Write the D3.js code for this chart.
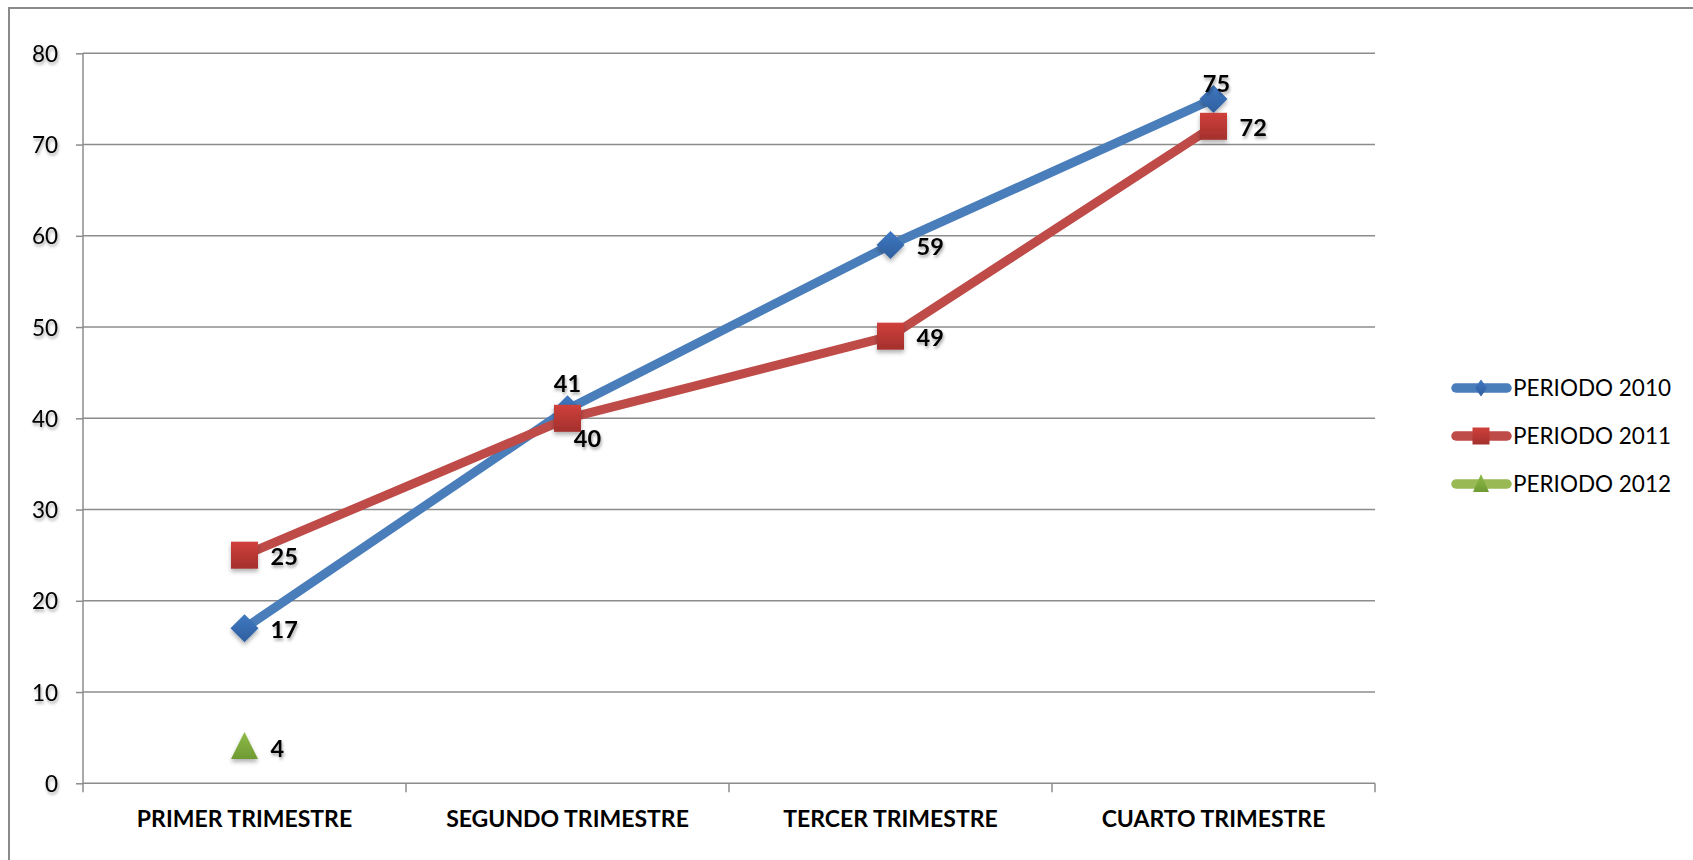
<!DOCTYPE html>
<html><head><meta charset="utf-8">
<script src="https://cdn.jsdelivr.net/npm/d3@7"></script>
<style>
body{margin:0;background:#fff;}
svg{display:block;font-family:Lato,"Open Sans",sans-serif;}
</style></head>
<body><svg id="c" width="1693" height="860"></svg>
<script>
const categories = ["PRIMER TRIMESTRE","SEGUNDO TRIMESTRE","TERCER TRIMESTRE","CUARTO TRIMESTRE"];
const seriesNames = ["PERIODO 2010","PERIODO 2011","PERIODO 2012"];
const values2010 = [17, 41, 59, 75];
const values2011 = [25, 40, 49, 72];
const values2012 = [4, null, null, null];
const yTicks = [0,10,20,30,40,50,60,70,80];
const labelPos2010 = ["right","above","right","aboveNear"];
const labelPos2011 = ["right","below","right","right"];
const labelPos2012 = ["right",null,null,null];

const series = [
  {name: seriesNames[0], values: values2010, pos: labelPos2010, line:"#4a7ebb", fill:"#3f78c2", dark:"#2f5f9e", shape:"diamond"},
  {name: seriesNames[1], values: values2011, pos: labelPos2011, line:"#be4b48", fill:"#d0403b", dark:"#a3302d", shape:"square"},
  {name: seriesNames[2], values: values2012, pos: labelPos2012, line:"#98b954", fill:"#8fbb48", dark:"#6f9a34", shape:"triangle"}
];

const svg = d3.select("#c");
const defs = svg.append("defs");
const f = defs.append("filter").attr("id","sh").attr("x","-50%").attr("y","-50%").attr("width","200%").attr("height","200%");
f.append("feDropShadow").attr("dx",1).attr("dy",2.5).attr("stdDeviation",1.6).attr("flood-color","#000").attr("flood-opacity",0.35);
const fm = defs.append("filter").attr("id","msh").attr("x","-50%").attr("y","-50%").attr("width","200%").attr("height","200%");
fm.append("feDropShadow").attr("dx",0).attr("dy",3).attr("stdDeviation",2).attr("flood-color","#000").attr("flood-opacity",0.3);
series.forEach((s,i)=>{
  const g = defs.append("linearGradient").attr("id","g"+i).attr("x1",0).attr("y1",0).attr("x2",0).attr("y2",1);
  g.append("stop").attr("offset","0%").attr("stop-color",s.fill);
  g.append("stop").attr("offset","100%").attr("stop-color",s.dark);
});

// outer border
svg.append("path").attr("d","M9,860 L9,8 L1693,8").attr("fill","none").attr("stroke","#8a8a8a").attr("stroke-width",2);

const pLeft = 83, pRight = 1375, pTop = 53.3, pBottom = 783.3;
const x = d3.scaleBand().domain(categories).range([pLeft,pRight]);
const y = d3.scaleLinear().domain([0,80]).range([pBottom,pTop]);
const cx = c => x(c) + x.bandwidth()/2;

// gridlines
svg.append("g").selectAll("line").data(yTicks.filter(t=>t>0)).join("line")
  .attr("x1",pLeft).attr("x2",pRight).attr("y1",d=>y(d)).attr("y2",d=>y(d))
  .attr("stroke","#8c8c8c").attr("stroke-width",1.5);

// y axis
const ya = svg.append("g").attr("transform",`translate(${pLeft},0)`)
  .call(d3.axisLeft(y).tickValues(yTicks).tickSize(7).tickPadding(18));
ya.select(".domain").attr("stroke","#8c8c8c").attr("stroke-width",1.5).attr("d",`M0,${pTop}V${pBottom}`);
ya.selectAll(".tick line").attr("stroke","#8c8c8c").attr("stroke-width",1.5);
ya.selectAll(".tick text").attr("font-size",22.5).attr("fill","#000").attr("filter","url(#sh)").attr("font-family","Lato,sans-serif").attr("dy","0.36em");

// x axis
const xa = svg.append("g").attr("transform",`translate(0,${pBottom})`)
  .call(d3.axisBottom(x).tickSize(0).tickPadding(27));
xa.select(".domain").attr("stroke","#8c8c8c").attr("stroke-width",1.5).attr("d",`M${pLeft},0H${pRight}`);
xa.selectAll(".tick text").attr("font-size",23).attr("font-weight","bold").attr("fill","#000").attr("font-family","Lato,sans-serif");
svg.append("g").selectAll("line").data(categories.map(c=>x(c)).concat([pRight])).join("line")
  .attr("x1",d=>d).attr("x2",d=>d).attr("y1",pBottom).attr("y2",pBottom+9)
  .attr("stroke","#8c8c8c").attr("stroke-width",1.5);

function marker(sel, shape, i, w, h){
  if(shape==="diamond"){
    sel.append("path").attr("d",`M0,${-h/2}L${w/2},0L0,${h/2}L${-w/2},0Z`);
  } else if(shape==="square"){
    sel.append("rect").attr("x",-w/2).attr("y",-h/2).attr("width",w).attr("height",h);
  } else {
    sel.append("path").attr("d",`M0,${-h*0.55}L${w/2},${h*0.45}L${-w/2},${h*0.45}Z`);
  }
  sel.selectAll("path,rect").attr("fill",`url(#g${i})`);
}

const line = d3.line().defined(d=>d.v!=null).x(d=>cx(d.c)).y(d=>y(d.v));
series.forEach((s,i)=>{
  const pts = categories.map((c,j)=>({c, v:s.values[j], p:s.pos[j]}));
  const g = svg.append("g");
  g.append("path").datum(pts).attr("d",line).attr("fill","none")
    .attr("stroke",s.line).attr("stroke-width",9).attr("stroke-linejoin","round").attr("stroke-linecap","round");
  pts.filter(d=>d.v!=null).forEach(d=>{
    const m = g.append("g").attr("transform",`translate(${cx(d.c)},${y(d.v)})`).attr("filter","url(#msh)");
    const sz = s.shape==="diamond" ? 28 : 27;
    marker(m, s.shape, i, sz, sz);
  });
});
// labels
series.forEach((s,i)=>{
  categories.forEach((c,j)=>{
    const v = s.values[j]; if(v==null) return;
    const p = s.pos[j];
    let tx = cx(c), ty = y(v) + 1.5, anchor="middle";
    if(p==="right"){ tx += 26; anchor="start"; }
    else if(p==="above"){ ty -= 27; }
    else if(p==="aboveNear"){ tx += 3; ty -= 17; }
    else if(p==="below"){ tx += 20; ty += 19; }
    svg.append("text").attr("x",tx).attr("y",ty).attr("text-anchor",anchor)
      .attr("dy","0.36em").attr("font-size",23.5).attr("font-weight","bold")
      .attr("filter","url(#sh)").text(v);
  });
});

// legend
const lg = svg.append("g");
series.forEach((s,i)=>{
  const ly = 388 + i*48;
  const g = lg.append("g");
  g.append("line").attr("x1",1456).attr("x2",1507).attr("y1",ly).attr("y2",ly)
    .attr("stroke",s.line).attr("stroke-width",9.5).attr("stroke-linecap","round");
  const m = g.append("g").attr("transform",`translate(1481,${ly})`);
  if(s.shape==="diamond") marker(m, s.shape, i, 12, 17);
  else if(s.shape==="square") marker(m, s.shape, i, 17, 17);
  else marker(m, s.shape, i, 16, 18);
  g.append("text").attr("x",1513).attr("y",ly).attr("dy","0.36em")
    .attr("font-size",22.5).text(s.name);
});
</script></body></html>
